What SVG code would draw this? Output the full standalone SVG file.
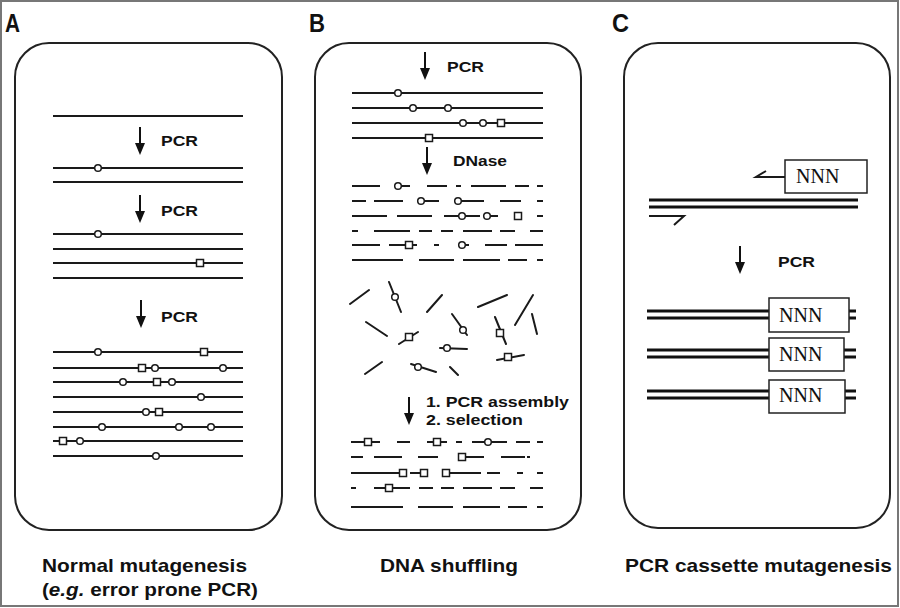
<svg xmlns="http://www.w3.org/2000/svg" xmlns:xlink="http://www.w3.org/1999/xlink" width="900" height="608" viewBox="0 0 900 608">
<style>
.frame{fill:#fff;stroke:#777;stroke-width:2}
.panel{fill:#fff;stroke:#222;stroke-width:2}
.s{stroke:#1a1a1a;stroke-width:2;fill:none;stroke-linecap:butt}
.f{stroke:#1a1a1a;stroke-width:2;fill:none;stroke-linecap:round}
.c{fill:#fff;stroke:#1a1a1a;stroke-width:1.5}
.q{fill:#fff;stroke:#1a1a1a;stroke-width:1.5}
.dbl{stroke:#111;stroke-width:3;fill:none}
.box{fill:#fff;stroke:#222;stroke-width:1.5}
.lbl{font-family:"Liberation Sans",Arial,sans-serif;font-weight:bold;fill:#111}
.nnn{font-family:"Liberation Serif","Times New Roman",serif;font-size:20px;fill:#111}
</style>
<defs>
<g id="arr"><line x1="0" y1="0" x2="0" y2="18" stroke="#111" stroke-width="2"/><polygon points="-5,16 5,16 0,28" fill="#111"/></g>
</defs>
<rect class="frame" x="1" y="1" width="897" height="605"/>
<g id="letters">
<text class="lbl" x="5" y="32" font-size="26" textLength="15" lengthAdjust="spacingAndGlyphs">A</text>
<text class="lbl" x="309" y="32" font-size="26" textLength="16" lengthAdjust="spacingAndGlyphs">B</text>
<text class="lbl" x="612" y="32" font-size="26" textLength="17" lengthAdjust="spacingAndGlyphs">C</text>
</g>
<g id="panelA">
<rect class="panel" x="15" y="43" width="267" height="487" rx="34"/>
<path class="s" d="M53 116H243M53 168H243M53 182H243M53 234H243M53 249H243M53 263H243M53 278H243M53 352H243M53 368H243M53 382H243M53 397H243M53 412H243M53 427H243M53 441H243M53 456H243"/>
<use xlink:href="#arr" x="140" y="127"/>
<use xlink:href="#arr" x="140" y="195"/>
<use xlink:href="#arr" x="141" y="300"/>
<text class="lbl" x="161" y="146" font-size="15" textLength="37" lengthAdjust="spacingAndGlyphs">PCR</text>
<text class="lbl" x="161" y="216" font-size="15" textLength="37" lengthAdjust="spacingAndGlyphs">PCR</text>
<text class="lbl" x="161" y="322" font-size="15" textLength="37" lengthAdjust="spacingAndGlyphs">PCR</text>
<g>
<circle class="c" cx="98" cy="168" r="3.3"/>
<circle class="c" cx="98" cy="234" r="3.3"/>
<rect class="q" x="196.5" y="259.5" width="7" height="7"/>
<circle class="c" cx="98" cy="352" r="3.3"/><rect class="q" x="200.5" y="348.5" width="7" height="7"/>
<rect class="q" x="138.5" y="364.5" width="7" height="7"/><circle class="c" cx="155" cy="368" r="3.3"/><circle class="c" cx="223" cy="368" r="3.3"/>
<circle class="c" cx="123" cy="382" r="3.3"/><rect class="q" x="153.5" y="378.5" width="7" height="7"/><circle class="c" cx="172" cy="382" r="3.3"/>
<circle class="c" cx="201" cy="397" r="3.3"/>
<circle class="c" cx="146" cy="412" r="3.3"/><rect class="q" x="155.5" y="408.5" width="7" height="7"/>
<circle class="c" cx="102" cy="427" r="3.3"/><circle class="c" cx="179" cy="427" r="3.3"/><circle class="c" cx="211" cy="427" r="3.3"/>
<rect class="q" x="59.5" y="437.5" width="7" height="7"/><circle class="c" cx="80" cy="441" r="3.3"/>
<circle class="c" cx="156" cy="456" r="3.3"/>
</g>
</g>
<g id="panelB">
<rect class="panel" x="315" y="43" width="266" height="487" rx="34"/>
<use xlink:href="#arr" x="425" y="52"/>
<text class="lbl" x="447" y="72" font-size="15" textLength="37" lengthAdjust="spacingAndGlyphs">PCR</text>
<path class="s" d="M352 93H543M352 108H543M352 123H543M352 138H543"/>
<circle class="c" cx="398" cy="93" r="3.3"/>
<circle class="c" cx="413" cy="108" r="3.3"/><circle class="c" cx="448" cy="108" r="3.3"/>
<circle class="c" cx="463" cy="123" r="3.3"/><circle class="c" cx="483" cy="123" r="3.3"/><rect class="q" x="497.5" y="119.5" width="7" height="7"/>
<rect class="q" x="425.5" y="134.5" width="7" height="7"/>
<use xlink:href="#arr" x="427" y="147"/>
<text class="lbl" x="453" y="166" font-size="15" textLength="54" lengthAdjust="spacingAndGlyphs">DNase</text>
<path class="s" d="M352 186H380M398 186H410M427 186H447M456 186H461M471 186H506M515 186H529M537 186H543
M352 201H366M374 201H403M421 201H439M458 201H484M500 201H521M537 201H543
M352 216H387M397 216H432M444 216H480M483 216H498M537 216H543
M352 231H358M374 231H410M419 231H432M441 231H453M463 231H492M500 231H515M530 231H543
M352 245H380M389 245H417M434 245H439M458 245H469M485 245H507M515 245H543
M352 260H403M419 260H454M463 260H500M508 260H527M537 260H543"/>
<circle class="c" cx="398" cy="186" r="3.3"/>
<circle class="c" cx="421" cy="201" r="3.3"/><circle class="c" cx="458" cy="201" r="3.3"/>
<circle class="c" cx="462" cy="216" r="3.3"/><circle class="c" cx="487" cy="216" r="3.3"/><rect class="q" x="514.5" y="212.5" width="7" height="7"/>
<rect class="q" x="405.5" y="241.5" width="7" height="7"/><circle class="c" cx="462" cy="245" r="3.3"/>
<path class="f" d="M350 304L369 290M389 282L401 312M427 312L442 295M478 307L507 295M515 325L533 295M366 322L387 336M399 344L418 332M452 314L467 335M495 317L506 344M532 314L537 334M440 348L467 349M497 360L524 355M365 374L382 362M411 364L436 372M450 367L458 375"/>
<circle class="c" cx="395" cy="297" r="3.3"/>
<rect class="q" x="405.5" y="333.5" width="7" height="7"/>
<circle class="c" cx="463" cy="330" r="3.3"/>
<rect class="q" x="496.5" y="329.5" width="7" height="7"/>
<circle class="c" cx="447" cy="348" r="3.3"/>
<rect class="q" x="504.5" y="353.5" width="7" height="7"/>
<circle class="c" cx="418" cy="367" r="3.3"/>
<use xlink:href="#arr" x="409" y="397"/>
<text class="lbl" x="426" y="407" font-size="15" textLength="143" lengthAdjust="spacingAndGlyphs">1. PCR assembly</text>
<text class="lbl" x="426" y="425" font-size="15" textLength="97" lengthAdjust="spacingAndGlyphs">2. selection</text>
<path class="s" d="M351 442H380M397 442H410M427 442H447M456 442H462M472 442H507M516 442H530M537 442H543
M351 457H363M374 457H402M418 457H438M458 457H484M501 457H525M527 457H530
M351 473H403M410 473H424M443 473H481M487 473H500M517 473H523M537 473H543
M351 488H356M374 488H410M419 488H433M441 488H454M463 488H492M500 488H515M530 488H543
M351 507H403M418 507H453M463 507H500M508 507H527M537 507H543"/>
<rect class="q" x="364.5" y="438.5" width="7" height="7"/><rect class="q" x="433.5" y="438.5" width="7" height="7"/><circle class="c" cx="488" cy="442" r="3.3"/>
<rect class="q" x="458.5" y="453.5" width="7" height="7"/>
<rect class="q" x="399.5" y="469.5" width="7" height="7"/><rect class="q" x="420.5" y="469.5" width="7" height="7"/><rect class="q" x="442.5" y="469.5" width="7" height="7"/>
<rect class="q" x="385.5" y="484.5" width="7" height="7"/>
</g>
<g id="panelC">
<rect class="panel" x="624" y="43" width="266" height="485" rx="34"/>
<rect class="box" x="785" y="160" width="82" height="33"/>
<text class="nnn" x="796" y="183">NNN</text>
<polyline class="s" points="785,177 756,177 766,171"/>
<path class="dbl" d="M649 200H858M649 207H858"/>
<polyline class="s" points="649,216 684,216 674,225"/>
<use xlink:href="#arr" x="740" y="246"/>
<text class="lbl" x="778" y="267" font-size="15" textLength="37" lengthAdjust="spacingAndGlyphs">PCR</text>
<path class="dbl" d="M647 311H769M647 318H769M849 311H856M849 318H856"/>
<rect class="box" x="769" y="298" width="80" height="34"/>
<text class="nnn" x="779" y="322">NNN</text>
<path class="dbl" d="M647 350H769M647 357H769M844 350H856M844 357H856"/>
<rect class="box" x="769" y="338" width="75" height="33"/>
<text class="nnn" x="779" y="361">NNN</text>
<path class="dbl" d="M647 391H769M647 398H769M845 391H856M845 398H856"/>
<rect class="box" x="769" y="380" width="76" height="33"/>
<text class="nnn" x="779" y="402">NNN</text>
</g>
<g id="captions">
<text class="lbl" x="42" y="572" font-size="19" textLength="205" lengthAdjust="spacingAndGlyphs">Normal mutagenesis</text>
<text class="lbl" x="42" y="596" font-size="19" textLength="216" lengthAdjust="spacingAndGlyphs">(<tspan font-style="italic">e.g.</tspan> error prone PCR)</text>
<text class="lbl" x="380" y="572" font-size="19" textLength="138" lengthAdjust="spacingAndGlyphs">DNA shuffling</text>
<text class="lbl" x="625" y="572" font-size="19" textLength="267" lengthAdjust="spacingAndGlyphs">PCR cassette mutagenesis</text>
</g>
</svg>
